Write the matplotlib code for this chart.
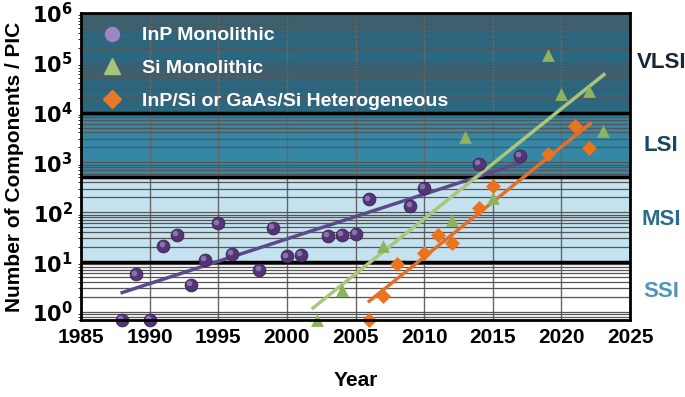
import matplotlib
matplotlib.use("Agg")
import matplotlib.pyplot as plt
from matplotlib.lines import Line2D
from matplotlib.transforms import offset_copy

plt.rcParams['font.family'] = ['Liberation Sans', 'DejaVu Sans']
plt.rcParams['font.weight'] = 'bold'

# data
inp_year = [1988, 1990, 1989, 1991, 1992, 1993, 1994, 1995, 1996, 1998, 1999,
            2000, 2001, 2003, 2004, 2005, 2006, 2009, 2010, 2014, 2017]
inp_val = [0.69, 0.69, 5.7, 21, 35, 3.5, 11, 60, 14.5, 7, 49,
           13, 14, 33, 35, 37, 182, 132, 307, 940, 1380]

si_year = [2002.2, 2004, 2007, 2012, 2013, 2015, 2019, 2020, 2022, 2023]
si_val = [0.69, 2.7, 21, 71, 3200, 197, 145000, 23700, 26600, 4200]

het_year = [2006, 2007, 2008, 2010, 2011, 2012, 2014, 2015, 2019, 2021, 2022]
het_val = [0.69, 2.1, 9.1, 15.4, 35, 24, 122, 330, 1450, 5350, 1940]

# trend lines (end points)
inp_fit_year = [1988, 2017]
inp_fit_val = [2.45, 980]
si_fit_year = [2001.9, 2023.1]
si_fit_val = [1.2, 58000]
het_fit_year = [2006, 2022.1]
het_fit_val = [1.65, 6000]

bands = [(0.69, 10, 'white', 'SSI', '#4e97b8'),
         (10, 500, '#c4e2f0', 'MSI', '#2a6c8c'),
         (500, 1e4, '#3587a6', 'LSI', '#1c4760'),
         (1e4, 1e6, '#2c6780', 'VLSI', '#1a2836')]

fig = plt.figure(figsize=(6.85, 3.97), dpi=100)
ax = fig.add_axes([81/685, 1 - 320/397, 549/685, 307/397])
ax.set_yscale('log')
ax.set_xlim(1985, 2025)
ax.set_ylim(0.69, 1e6)

for lo, hi, col, name, tcol in bands:
    ax.axhspan(lo, hi, color=col, zorder=0, lw=0)
    if lo >= 500:
        # dark bands: veil over the grid so the lines stay faint
        ax.axhspan(lo, hi, color=col, zorder=1.5, lw=0, alpha=0.7)
    mid = (lo * hi) ** 0.5
    ax.text(1.057, mid, name, transform=ax.get_yaxis_transform(), ha='center',
            va='center', fontsize=16, fontweight='bold', color=tcol)

ax.grid(True, which='both', axis='y', color='#555555', lw=0.9, zorder=1)
ax.grid(True, which='major', axis='x', color='#666666', lw=1, zorder=1)
for b in [10, 500, 1e4]:
    ax.axhline(b, color='black', lw=2.5, zorder=2)

ax.set_xticks(range(1985, 2030, 5))
ax.set_yticks([1, 10, 100, 1e3, 1e4, 1e5, 1e6])
ax.set_yticklabels([r'$\mathbf{10^{%d}}$' % i for i in range(7)])
ax.tick_params(axis='both', length=0, labelsize=15, pad=6)
for lab in ax.get_xticklabels():
    lab.set_fontweight('bold')
for sp in ax.spines.values():
    sp.set_linewidth(2)
    sp.set_zorder(6)

ax.plot(inp_fit_year, inp_fit_val, color='#5c4a8c', lw=2.5, zorder=3)
ax.plot(si_fit_year, si_fit_val, color='#a9c77c', lw=2.5, zorder=3)
ax.plot(het_fit_year, het_fit_val, color='#e2702a', lw=2.5, zorder=3)

ax.scatter(inp_year, inp_val, s=85, color='#533576', edgecolor='#3b2456',
           lw=0.6, zorder=4, clip_on=False)
hl = offset_copy(ax.transData, fig=fig, x=-1.3, y=1.3, units='points')
ax.scatter(inp_year, inp_val, s=16, color='#8a72ad', lw=0, zorder=5,
           clip_on=False, transform=hl)
ax.scatter(si_year, si_val, s=85, marker='^', color='#8fb35c', lw=0,
           zorder=4, clip_on=False)
ax.scatter(het_year, het_val, s=58, marker='D', color='#e8741f', lw=0,
           zorder=4, clip_on=False)

handles = [Line2D([], [], ls='none', marker='o', ms=10, color='#9d86c3'),
           Line2D([], [], ls='none', marker='^', ms=11, color='#a8c27a'),
           Line2D([], [], ls='none', marker='D', ms=9, color='#e8792a')]
labels = ['InP Monolithic', 'Si Monolithic', 'InP/Si or GaAs/Si Heterogeneous']
leg = ax.legend(handles, labels, loc='upper left', bbox_to_anchor=(-0.01, 1.012),
                frameon=False, labelcolor='white', handletextpad=0.5,
                labelspacing=0.78, prop={'size': 14, 'weight': 'bold'})
leg.set_zorder(7)

ax.set_xlabel('Year', fontsize=15, fontweight='bold', labelpad=17)
ax.set_ylabel('Number of Components / PIC', fontsize=15, fontweight='bold',
              labelpad=6)

fig.savefig('out.png', dpi=100)
